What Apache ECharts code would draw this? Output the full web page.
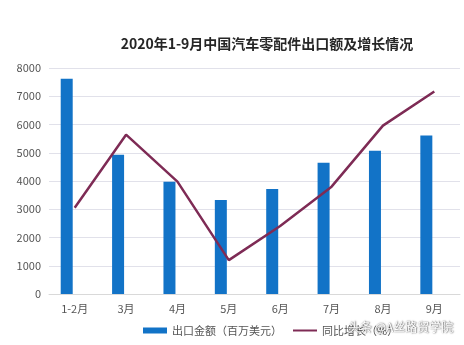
<!DOCTYPE html>
<html>
<head>
<meta charset="utf-8">
<script src="https://cdn.jsdelivr.net/npm/echarts@6/dist/echarts.min.js"></script>
<style>
  html, body { margin: 0; padding: 0; background: #fff; }
  #main { width: 464px; height: 345px; }
</style>
</head>
<body>
<div id="main"></div>
<script>
var months = ['1-2月', '3月', '4月', '5月', '6月', '7月', '8月', '9月']
var exportAmount = [7620, 4930, 3970, 3330, 3720, 4650, 5070, 5610]
var growth = [3050, 5640, 3980, 1200, 2410, 3800, 5960, 7170]
var yTicks = [0, 1000, 2000, 3000, 4000, 5000, 6000, 7000, 8000]

var font = '"Noto Sans CJK SC", "Noto Sans", sans-serif'
var chart = echarts.init(document.getElementById('main'))
chart.setOption({
  animation: false,
  title: {
    text: '2020年1-9月中国汽车零配件出口额及增长情况',
    left: 262,
    textAlign: 'center',
    top: 32,
    textStyle: { fontSize: 14, fontWeight: 'bold', color: '#262626', fontFamily: font }
  },
  grid: { left: 49, right: 4, top: 68, bottom: 51 },
  legend: {
    bottom: 4,
    left: 138,
    itemWidth: 24,
    itemHeight: 6,
    itemGap: 10,
    textStyle: { fontSize: 11, color: '#555', fontFamily: font },
    data: [
      { name: '出口金额（百万美元）', icon: 'rect' },
      { name: '同比增长（%）', itemStyle: { opacity: 0 } }
    ]
  },
  xAxis: {
    type: 'category',
    data: months,
    axisTick: { show: false },
    axisLine: { lineStyle: { color: '#d9d9d9' } },
    axisLabel: { color: '#555', fontSize: 11, fontFamily: font, margin: 9 }
  },
  yAxis: [
    {
      type: 'value',
      min: yTicks[0],
      max: yTicks[yTicks.length - 1],
      interval: 1000,
      axisLine: { show: false },
      axisTick: { show: false },
      axisLabel: {
        color: '#555', fontSize: 11, fontFamily: font, margin: 8,
        formatter: function (v) { return String(v) }
      },
      splitLine: { lineStyle: { color: '#e1e1ea' } }
    },
    {
      type: 'value',
      min: 0,
      max: 8000,
      show: false,
      splitLine: { show: false }
    }
  ],
  series: [
    {
      name: '出口金额（百万美元）',
      type: 'bar',
      barWidth: 12,
      barGap: '33%',
      itemStyle: { color: '#1273c7' },
      data: exportAmount
    },
    {
      // empty placeholder so bars sit left of the category centre
      name: 'pad',
      type: 'bar',
      barWidth: 12,
      data: months.map(function () { return '-' })
    },
    {
      name: '同比增长（%）',
      type: 'line',
      yAxisIndex: 1,
      symbol: 'none',
      lineStyle: { color: '#7e2b55', width: 2.5 },
      itemStyle: { color: '#7e2b55' },
      data: growth
    }
  ],
  graphic: [
    {
      type: 'text',
      left: 348,
      top: 321,
      z: 100,
      style: {
        text: '头条 @A丝路贸学院',
        fontSize: 12,
        fontFamily: font,
        fill: '#fff',
        textShadowColor: 'rgba(0,0,0,0.85)',
        textShadowBlur: 1.5,
        textShadowOffsetX: 0.5,
        textShadowOffsetY: 0.5
      }
    }
  ]
})
</script>
</body>
</html>
